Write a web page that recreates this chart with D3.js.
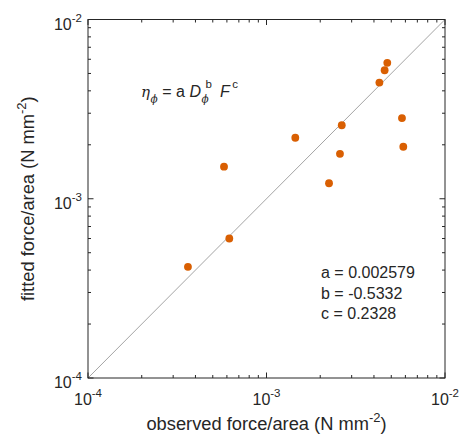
<!DOCTYPE html>
<html>
<head>
<meta charset="utf-8">
<script src="https://cdn.jsdelivr.net/npm/d3@7"></script>
<style>
  html, body { margin: 0; padding: 0; background: #fff; }
  svg { display: block; }
  text { font-family: "Liberation Sans", Arial, Helvetica, sans-serif; fill: #262626; }
</style>
</head>
<body>
<svg id="chart" width="462" height="436"></svg>
<script>
// Observed vs fitted force per unit area (N mm^-2)
const observed = [3.63e-4, 5.78e-4, 6.19e-4, 1.45e-3, 2.24e-3, 2.58e-3, 2.64e-3, 4.29e-3, 4.59e-3, 4.75e-3, 5.74e-3, 5.84e-3];
const fitted   = [4.17e-4, 1.51e-3, 6.00e-4, 2.19e-3, 1.22e-3, 1.78e-3, 2.57e-3, 4.45e-3, 5.21e-3, 5.73e-3, 2.82e-3, 1.95e-3];
const majorTicks = [1e-4, 1e-3, 1e-2];
const tickExponents = ["-4", "-3", "-2"];
const coefficientLabels = ["a = 0.002579", "b = -0.5332", "c = 0.2328"];
const domain = [1e-4, 1e-2];

const svg = d3.select("#chart");
const plotLeft = 88, plotRight = 445, plotTop = 19.5, plotBottom = 378;

const x = d3.scaleLog().domain(domain).range([plotLeft, plotRight]);
const y = d3.scaleLog().domain(domain).range([plotBottom, plotTop]);

const axisColor = "#262626";
const majorLen = 5.5, minorLen = 3;

// minor tick values 2..9 in each decade
const minorTicks = [];
for (let e = -4; e < -2; e++) {
  for (let m = 2; m <= 9; m++) minorTicks.push(m * Math.pow(10, e));
}

// 1:1 reference line
svg.append("line")
  .attr("x1", x(domain[0])).attr("y1", y(domain[0]))
  .attr("x2", x(domain[1])).attr("y2", y(domain[1]))
  .attr("stroke", "#9a9a9a").attr("stroke-width", 0.9);

// data points
svg.append("g").selectAll("circle")
  .data(observed.map((o, i) => [o, fitted[i]]))
  .join("circle")
  .attr("cx", d => x(d[0]))
  .attr("cy", d => y(d[1]))
  .attr("r", 3.9)
  .attr("fill", "#D95F02");

// box with inward ticks on all four sides
const axes = svg.append("g").attr("stroke", axisColor).attr("fill", "none");
axes.append("rect")
  .attr("x", plotLeft).attr("y", plotTop)
  .attr("width", plotRight - plotLeft).attr("height", plotBottom - plotTop)
  .attr("stroke-width", 1);

function ticks(vals, len) {
  vals.forEach(v => {
    const px = x(v), py = y(v);
    axes.append("line").attr("x1", px).attr("x2", px).attr("y1", plotBottom).attr("y2", plotBottom - len);
    axes.append("line").attr("x1", px).attr("x2", px).attr("y1", plotTop).attr("y2", plotTop + len);
    axes.append("line").attr("y1", py).attr("y2", py).attr("x1", plotLeft).attr("x2", plotLeft + len);
    axes.append("line").attr("y1", py).attr("y2", py).attr("x1", plotRight).attr("x2", plotRight - len);
  });
}
ticks(majorTicks, majorLen);
ticks(minorTicks, minorLen);

// tick labels 10^n
const tickFont = 16, supFont = 11.5;
majorTicks.forEach((v, i) => {
  const tx = svg.append("text")
    .attr("x", x(v)).attr("y", 405)
    .attr("text-anchor", "middle")
    .style("font-size", tickFont + "px");
  tx.append("tspan").text("10");
  tx.append("tspan").attr("dy", -8).style("font-size", supFont + "px").text(tickExponents[i]);

  const ty = svg.append("text")
    .attr("x", 82).attr("y", y(v) + 10)
    .attr("text-anchor", "end")
    .style("font-size", tickFont + "px");
  ty.append("tspan").text("10");
  ty.append("tspan").attr("dy", -8).style("font-size", supFont + "px").text(tickExponents[i]);
});

// axis titles
const labelFont = 18.3;
const xl = svg.append("text")
  .attr("x", (plotLeft + plotRight) / 2).attr("y", 430)
  .attr("text-anchor", "middle")
  .style("font-size", labelFont + "px");
xl.append("tspan").text("observed force/area (N mm");
xl.append("tspan").attr("dy", -8).style("font-size", "13px").text("-2");
xl.append("tspan").attr("dy", 8).text(")");

const yl = svg.append("text")
  .attr("transform", `translate(34,${(plotTop + plotBottom) / 2}) rotate(-90)`)
  .attr("text-anchor", "middle")
  .style("font-size", labelFont + "px");
yl.append("tspan").text("fitted force/area (N mm");
yl.append("tspan").attr("dy", -8).style("font-size", "13px").text("-2");
yl.append("tspan").attr("dy", 8).text(")");

// model equation: one text element, pieces placed after measuring their widths
const serif = "'DejaVu Serif', 'Liberation Serif', serif";
const eqParts = [
  { s: "η", size: 15, dy: 0, italic: true, family: serif, gap: 0.5 },
  { s: "ϕ", size: 10.5, dy: 6, italic: true, family: serif, gap: 4.5 },
  { s: "=", size: 16, dy: 0, gap: 4.5 },
  { s: "a", size: 16, dy: 0, gap: 4.5 },
  { s: "D", size: 16, dy: 0, italic: true, gap: 0.5 },
  { s: "ϕ", size: 10.5, dy: 6, italic: true, family: serif, gap: 0, stack: true },
  { s: "b", size: 11.5, dy: -9, gap: 8, shift: 4 },
  { s: "F", size: 16, dy: 0, italic: true, gap: 2.5 },
  { s: "c", size: 11.5, dy: -9, gap: 0 }
];
const measure = svg.append("text").attr("visibility", "hidden");
function widthOf(p) {
  measure.text(p.s)
    .style("font-size", p.size + "px")
    .style("font-style", p.italic ? "italic" : "normal")
    .style("font-family", p.family || null);
  return measure.node().getComputedTextLength();
}
const eqX = 141, eqBase = 97;
const eq = svg.append("text");
let cursor = eqX, stackStart = null;
eqParts.forEach(p => {
  const w = widthOf(p);
  let px = cursor;
  if (p.stack) {
    stackStart = cursor;
  } else if (stackStart !== null) {
    px = stackStart + (p.shift || 0);
    stackStart = null;
  }
  const t = eq.append("tspan")
    .attr("x", px).attr("y", eqBase + p.dy)
    .style("font-size", p.size + "px")
    .style("font-style", p.italic ? "italic" : "normal")
    .text(p.s);
  if (p.family) t.style("font-family", p.family);
  cursor = Math.max(p.stack ? px : cursor, px + w);
  if (!p.stack) cursor += p.gap;
});
measure.remove();

// fitted coefficients
coefficientLabels.forEach((s, i) => {
  svg.append("text")
    .attr("x", 321).attr("y", 278 + i * 20.5)
    .style("font-size", "16px")
    .text(s);
});
</script>
</body>
</html>
